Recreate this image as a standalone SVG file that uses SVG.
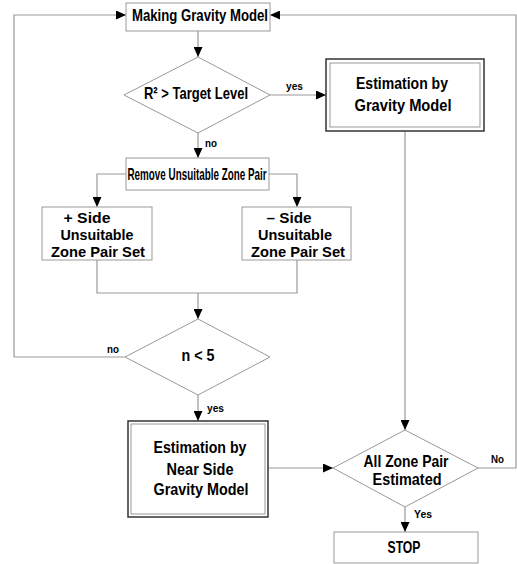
<svg xmlns="http://www.w3.org/2000/svg" width="517" height="564" viewBox="0 0 517 564">
<defs>
<marker id="ah" markerWidth="10" markerHeight="9" refX="10" refY="4.5" orient="auto" markerUnits="userSpaceOnUse">
<path d="M0,0 L10,4.5 L0,9 Z" fill="#000"/>
</marker>
<style>
.box{fill:#fff;stroke:#999;stroke-width:1}
.outer{fill:#fff;stroke:#333;stroke-width:1.5}
.inner{fill:none;stroke:#999;stroke-width:1}
.dia{fill:#fff;stroke:#999;stroke-width:1}
.con{fill:none;stroke:#999;stroke-width:1.2}
.t{font-family:"Liberation Sans",Arial,sans-serif;font-weight:bold;font-size:17px;fill:#000;text-anchor:middle}
.m{font-size:15px}
.s{font-family:"Liberation Sans",Arial,sans-serif;font-weight:bold;font-size:11px;fill:#000}
</style>
</defs>
<rect width="517" height="564" fill="#fff"/>
<g id="connectors">
<path class="con" d="M125,357 H14 V15 H126" marker-end="url(#ah)"/>
<path class="con" d="M478,468 H516 V15 H270" marker-end="url(#ah)"/>
<path class="con" d="M198,31 V57" marker-end="url(#ah)"/>
<path class="con" d="M270,95 H326" marker-end="url(#ah)"/>
<path class="con" d="M198,133 V158" marker-end="url(#ah)"/>
<path class="con" d="M126,174 H97 V207" marker-end="url(#ah)"/>
<path class="con" d="M269,174 H297 V207" marker-end="url(#ah)"/>
<path class="con" d="M97,260 V293 H297 V260"/>
<path class="con" d="M198,293 V319" marker-end="url(#ah)"/>
<path class="con" d="M198,395 V421" marker-end="url(#ah)"/>
<path class="con" d="M405,131 V430" marker-end="url(#ah)"/>
<path class="con" d="M268,468 H333" marker-end="url(#ah)"/>
<path class="con" d="M405,507 V532" marker-end="url(#ah)"/>
<text class="s" x="286" y="90" textLength="17" lengthAdjust="spacingAndGlyphs">yes</text>
<text class="s" x="205" y="147" textLength="12" lengthAdjust="spacingAndGlyphs">no</text>
<text class="s" x="107" y="353" textLength="12" lengthAdjust="spacingAndGlyphs">no</text>
<text class="s" x="207" y="412" textLength="17" lengthAdjust="spacingAndGlyphs">yes</text>
<text class="s" x="491" y="463" textLength="13" lengthAdjust="spacingAndGlyphs">No</text>
<text class="s" x="414" y="518" textLength="18" lengthAdjust="spacingAndGlyphs">Yes</text>
</g>
<g id="making">
<rect class="box" x="126" y="3" width="144" height="28"/>
<text class="t" x="200" y="21" textLength="136" lengthAdjust="spacingAndGlyphs">Making Gravity Model</text>
</g>
<g id="r2">
<polygon class="dia" points="198,57 270,95 198,133 124,95"/>
<text class="t" x="196" y="99" textLength="104" lengthAdjust="spacingAndGlyphs">R² &gt; Target Level</text>
</g>
<g id="estGravity">
<rect class="outer" x="326" y="59" width="158" height="72"/>
<rect class="inner" x="330" y="63" width="150" height="64"/>
<text class="t" x="402" y="89" textLength="92" lengthAdjust="spacingAndGlyphs">Estimation by</text>
<text class="t" x="403" y="111" textLength="97" lengthAdjust="spacingAndGlyphs">Gravity Model</text>
</g>
<g id="remove">
<rect class="box" x="126" y="158" width="143" height="32"/>
<text class="t" x="197" y="180" textLength="139" lengthAdjust="spacingAndGlyphs">Remove Unsuitable Zone Pair</text>
</g>
<g id="plusSide">
<rect class="box" x="42" y="207" width="110" height="53"/>
<text class="t m" x="87" y="223" textLength="47" lengthAdjust="spacingAndGlyphs">+ Side</text>
<text class="t m" x="97" y="240" textLength="73" lengthAdjust="spacingAndGlyphs">Unsuitable</text>
<text class="t m" x="98" y="257" textLength="94" lengthAdjust="spacingAndGlyphs">Zone Pair Set</text>
</g>
<g id="minusSide">
<rect class="box" x="242" y="207" width="109" height="53"/>
<text class="t m" x="289" y="223" textLength="45" lengthAdjust="spacingAndGlyphs">– Side</text>
<text class="t m" x="295" y="240" textLength="74" lengthAdjust="spacingAndGlyphs">Unsuitable</text>
<text class="t m" x="298" y="257" textLength="94" lengthAdjust="spacingAndGlyphs">Zone Pair Set</text>
</g>
<g id="nless5">
<polygon class="dia" points="198,319 270,357 198,395 125,357"/>
<text class="t" x="198" y="361" textLength="33" lengthAdjust="spacingAndGlyphs">n &lt; 5</text>
</g>
<g id="estNear">
<rect class="outer" x="128" y="421" width="140" height="96"/>
<rect class="inner" x="131" y="424" width="134" height="90"/>
<text class="t" x="200" y="453" textLength="93" lengthAdjust="spacingAndGlyphs">Estimation by</text>
<text class="t" x="200" y="475" textLength="67" lengthAdjust="spacingAndGlyphs">Near Side</text>
<text class="t" x="201" y="495" textLength="95" lengthAdjust="spacingAndGlyphs">Gravity Model</text>
</g>
<g id="allZone">
<polygon class="dia" points="405,430 478,468 405,507 333,468"/>
<text class="t" x="406" y="467" textLength="85" lengthAdjust="spacingAndGlyphs">All Zone Pair</text>
<text class="t" x="407" y="485" textLength="69" lengthAdjust="spacingAndGlyphs">Estimated</text>
</g>
<g id="stop">
<rect class="box" x="334" y="532" width="144" height="31"/>
<text class="t" x="404" y="553" textLength="33" lengthAdjust="spacingAndGlyphs">STOP</text>
</g>
</svg>
